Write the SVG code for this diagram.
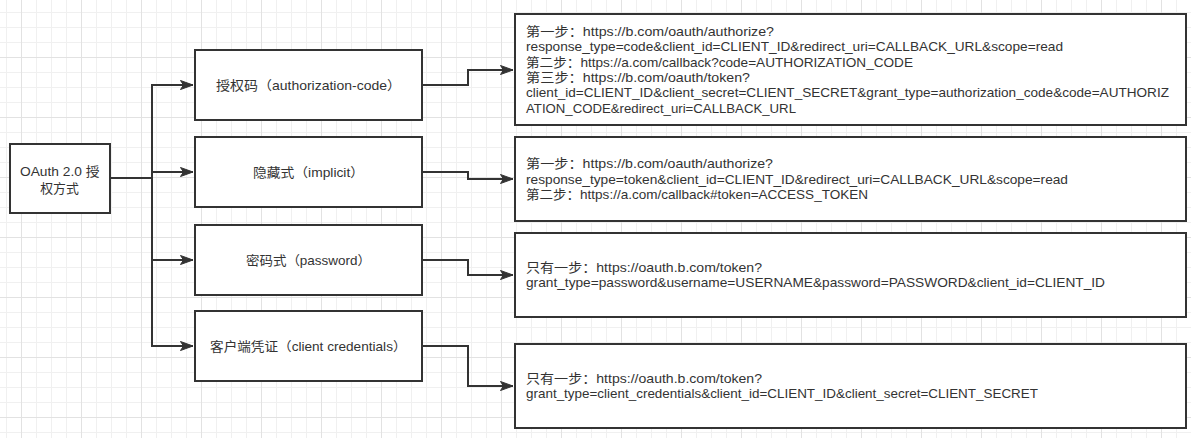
<svg xmlns="http://www.w3.org/2000/svg" width="1191" height="438" viewBox="0 0 1191 438">
<style>
.box{fill:#ffffff;stroke:#333333;stroke-width:2}
.edge{fill:none;stroke:#333333;stroke-width:2;marker-end:url(#arrow)}
text{font-family:"Liberation Sans","Noto Sans CJK SC",sans-serif;font-size:12.8px;fill:#333333;dominant-baseline:central}
.c{text-anchor:middle}
</style>
<defs>
<pattern id="grid" x="21" y="57" width="60" height="60" patternUnits="userSpaceOnUse">
<path d="M15.5 0V60M30.5 0V60M45.5 0V60M0 15.5H60M0 30.5H60M0 45.5H60" stroke="#f0f0f0" stroke-width="1" fill="none"/>
<path d="M0.5 0V60M0 0.5H60" stroke="#e2e2e2" stroke-width="1" fill="none"/>
</pattern>
<marker id="arrow" markerUnits="userSpaceOnUse" markerWidth="14" markerHeight="10" refX="13" refY="5" orient="auto">
<path d="M0.5,0.5 L13,5 L0.5,9.5 L3.5,5 Z" fill="#333333" stroke="#333333" stroke-width="1"/>
</marker>
</defs>
<rect x="0" y="0" width="1191" height="438" fill="#ffffff"/>
<rect x="0" y="0" width="1191" height="438" fill="url(#grid)"/>

<g id="connectors">
<path class="edge" d="M110,178 H152 V85 H193"/>
<path class="edge" d="M110,178 H152 V172 H193"/>
<path class="edge" d="M110,178 H152 V260 H193"/>
<path class="edge" d="M110,178 H152 V346 H193"/>
<path class="edge" d="M422,85 H468 V70 H513"/>
<path class="edge" d="M422,172 H468 V179 H513"/>
<path class="edge" d="M422,260 H468 V275 H513"/>
<path class="edge" d="M422,346 H468 V386 H513"/>
</g>

<g id="root">
<rect class="box" x="10" y="144" width="100" height="69"/>
<text class="c" x="59.7" y="171" textLength="79.5" lengthAdjust="spacingAndGlyphs">OAuth 2.0 授</text>
<text class="c" x="59.5" y="188.5" textLength="38.6" lengthAdjust="spacingAndGlyphs">权方式</text>
</g>

<g id="auth-code">
<rect class="box" x="195" y="50" width="227" height="70"/>
<text class="c" x="308.5" y="85" textLength="185" lengthAdjust="spacingAndGlyphs">授权码（authorization-code）</text>
</g>
<g id="implicit">
<rect class="box" x="195" y="137" width="227" height="70"/>
<text class="c" x="308.5" y="172" textLength="111" lengthAdjust="spacingAndGlyphs">隐藏式（implicit）</text>
</g>
<g id="password">
<rect class="box" x="195" y="225" width="227" height="70"/>
<text class="c" x="308.5" y="260" textLength="125" lengthAdjust="spacingAndGlyphs">密码式（password）</text>
</g>
<g id="client-credentials">
<rect class="box" x="195" y="311" width="227" height="70"/>
<text class="c" x="308.3" y="346" textLength="196.5" lengthAdjust="spacingAndGlyphs">客户端凭证（client credentials）</text>
</g>

<g id="auth-code-detail">
<rect class="box" x="515" y="14" width="671" height="111"/>
<text x="526" y="31.5" textLength="248" lengthAdjust="spacingAndGlyphs">第一步：https://b.com/oauth/authorize?</text>
<text x="526" y="46.8" textLength="537" lengthAdjust="spacingAndGlyphs">response_type=code&amp;client_id=CLIENT_ID&amp;redirect_uri=CALLBACK_URL&amp;scope=read</text>
<text x="526" y="62.1" textLength="387" lengthAdjust="spacingAndGlyphs">第二步：https://a.com/callback?code=AUTHORIZATION_CODE</text>
<text x="526" y="77.4" textLength="224" lengthAdjust="spacingAndGlyphs">第三步：https://b.com/oauth/token?</text>
<text x="526" y="92.7" textLength="643" lengthAdjust="spacingAndGlyphs">client_id=CLIENT_ID&amp;client_secret=CLIENT_SECRET&amp;grant_type=authorization_code&amp;code=AUTHORIZ</text>
<text x="526" y="108" textLength="270" lengthAdjust="spacingAndGlyphs">ATION_CODE&amp;redirect_uri=CALLBACK_URL</text>
</g>
<g id="implicit-detail">
<rect class="box" x="515" y="137" width="671" height="84"/>
<text x="526" y="163.7" textLength="247" lengthAdjust="spacingAndGlyphs">第一步：https://b.com/oauth/authorize?</text>
<text x="526" y="179" textLength="542" lengthAdjust="spacingAndGlyphs">response_type=token&amp;client_id=CLIENT_ID&amp;redirect_uri=CALLBACK_URL&amp;scope=read</text>
<text x="526" y="194.3" textLength="342" lengthAdjust="spacingAndGlyphs">第二步：https://a.com/callback#token=ACCESS_TOKEN</text>
</g>
<g id="password-detail">
<rect class="box" x="515" y="233" width="671" height="84"/>
<text x="526" y="267.5" textLength="236" lengthAdjust="spacingAndGlyphs">只有一步：https://oauth.b.com/token?</text>
<text x="526" y="282.8" textLength="579" lengthAdjust="spacingAndGlyphs">grant_type=password&amp;username=USERNAME&amp;password=PASSWORD&amp;client_id=CLIENT_ID</text>
</g>
<g id="client-credentials-detail">
<rect class="box" x="515" y="344" width="671" height="84"/>
<text x="526" y="378.5" textLength="236" lengthAdjust="spacingAndGlyphs">只有一步：https://oauth.b.com/token?</text>
<text x="526" y="393.8" textLength="512" lengthAdjust="spacingAndGlyphs">grant_type=client_credentials&amp;client_id=CLIENT_ID&amp;client_secret=CLIENT_SECRET</text>
</g>
</svg>
